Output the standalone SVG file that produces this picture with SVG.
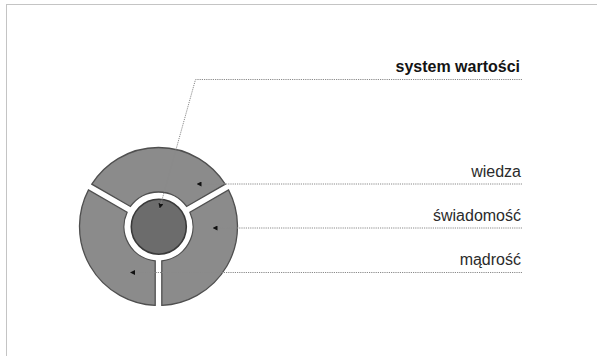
<svg xmlns="http://www.w3.org/2000/svg" width="597" height="356" viewBox="0 0 597 356">
  <style>
    .seg { fill: #8b8b8b; stroke: #4f4f4f; stroke-width: 1.3; }
    .core { fill: #6c6c6c; stroke: #3a3a3a; stroke-width: 1.6; }
    .lbl { font-family: "Liberation Sans", Arial, sans-serif; font-size: 16px; fill: #2b2b2b; text-anchor: end; }
    .title { font-weight: bold; fill: #141414; }
    .dot { fill: none; stroke: #8a8a8a; stroke-width: 1; stroke-dasharray: 1.2 1; marker-end: url(#arr); }
  </style>
  <defs>
    <marker id="arr" viewBox="0 0 6 6" refX="6" refY="3" markerWidth="5" markerHeight="5" markerUnits="userSpaceOnUse" orient="auto">
      <path d="M0,0 L6,3 L0,6 Z" fill="#111"/>
    </marker>
  </defs>
  <rect x="6.5" y="4.5" width="600" height="360" fill="#ffffff" stroke="#c4c4c4" stroke-width="1"/>

  <g id="segment-top">
    <path class="seg" d="M91.8,184.17 A79,79 0 0 1 225.2,184.17 L186.59,206.47 A34.5,34.5 0 0 0 130.41,206.47 Z"/>
  </g>
  <g id="segment-right">
    <path class="seg" d="M228.5,189.89 A79,79 0 0 1 161.8,305.43 L161.8,260.84 A34.5,34.5 0 0 0 189.89,212.19 Z"/>
  </g>
  <g id="segment-left">
    <path class="seg" d="M155.2,305.43 A79,79 0 0 1 88.5,189.89 L127.11,212.19 A34.5,34.5 0 0 0 155.2,260.84 Z"/>
  </g>
  <g id="core">
    <circle class="core" cx="158.8" cy="226.7" r="27.5"/>
  </g>

  <g id="connectors">
    <path class="dot" d="M522,79.5 H195.5 L159.6,208.5"/>
    <path class="dot" d="M522,184 H196.5"/>
    <path class="dot" d="M522,228 H212.5"/>
    <path class="dot" d="M522,272.5 H130"/>
  </g>

  <g id="label-system">
    <text class="lbl title" x="520" y="71.5">system wartości</text>
  </g>
  <g id="label-wiedza">
    <text class="lbl" x="521" y="176.7">wiedza</text>
  </g>
  <g id="label-swiadomosc">
    <text class="lbl" x="521" y="221">świadomość</text>
  </g>
  <g id="label-madrosc">
    <text class="lbl" x="521" y="264.5">mądrość</text>
  </g>
</svg>
